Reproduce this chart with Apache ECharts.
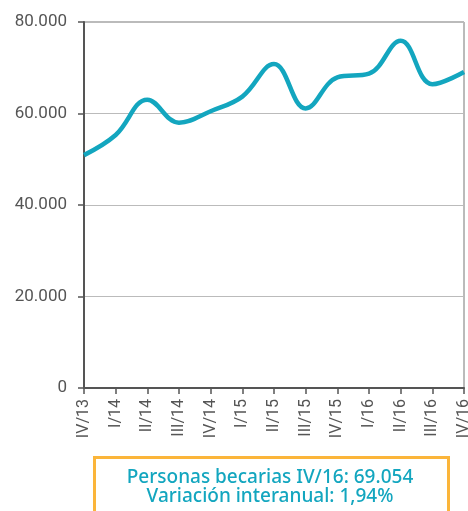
<!DOCTYPE html>
<html>
<head>
<meta charset="utf-8">
<script src="https://cdn.jsdelivr.net/npm/echarts@6/dist/echarts.min.js"></script>
<style>
  html, body { margin: 0; padding: 0; background: #fff; }
  #chart { width: 468px; height: 511px; }
</style>
</head>
<body>
<div id="chart"></div>
<script>
// trimestres
var categories = ['IV/13', 'I/14', 'II/14', 'III/14', 'IV/14', 'I/15', 'II/15', 'III/15', 'IV/15', 'I/16', 'II/16', 'III/16', 'IV/16']
// personas becarias
var becarios = [50900, 55300, 63000, 58000, 60500, 63700, 70800, 61100, 67900, 68700, 75900, 66400, 69054]
var infoLines = ['Personas becarias IV/16: 69.054', 'Variación interanual: 1,94%']

function fmtMiles(v) {
  return String(v).replace(/\B(?=(\d{3})+(?!\d))/g, '.')
}

var chart = echarts.init(document.getElementById('chart'))
var option = {
  animation: false,
  grid: {
    left: 84,
    right: 4,
    top: 22,
    bottom: 123,
    outerBoundsMode: 'none',
    show: true,
    borderColor: '#777', // marco superior y derecho
    borderWidth: 1
  },
  xAxis: {
    type: 'category',
    boundaryGap: false,
    data: categories,
    axisLine: { lineStyle: { color: '#555', width: 2 } },
    axisTick: { show: true, length: 6, lineStyle: { color: '#555', width: 1.5 } },
    axisLabel: {
      rotate: 90,
      margin: 11,
      interval: 0,
      color: '#555',
      fontFamily: 'Roboto',
      fontSize: 16
    },
    splitLine: { show: false }
  },
  yAxis: {
    type: 'value',
    min: 0,
    max: 80000,
    interval: 20000,
    axisLine: { show: true, lineStyle: { color: '#555', width: 2 } },
    axisTick: { show: true, length: 6, lineStyle: { color: '#555', width: 1.5 } },
    axisLabel: {
      margin: 17,
      color: '#555',
      fontFamily: 'Roboto',
      fontSize: 17,
      formatter: fmtMiles
    },
    splitLine: { show: true, lineStyle: { color: '#bbb', width: 1 } }
  },
  series: [
    {
      type: 'line',
      data: becarios,
      smooth: 0.4,
      symbol: 'none',
      lineStyle: { color: '#13a6bf', width: 4.5 }
    }
  ],
  graphic: [
    {
      type: 'rect',
      left: 93,
      top: 456,
      shape: { width: 354, height: 70 },
      style: { fill: '#fff', stroke: '#fbb53a', lineWidth: 3 }
    },
    {
      type: 'text',
      x: 270,
      y: 478,
      style: {
        text: infoLines[0],
        textAlign: 'center',
        textVerticalAlign: 'middle',
        fill: '#13a6bf',
        font: '500 19px "Noto Sans"'
      }
    },
    {
      type: 'text',
      x: 270,
      y: 497,
      style: {
        text: infoLines[1],
        textAlign: 'center',
        textVerticalAlign: 'middle',
        fill: '#13a6bf',
        font: '500 19px "Noto Sans"'
      }
    }
  ]
}
chart.setOption(option)
window.addEventListener('resize', function() {
  chart.resize()
})
</script>
</body>
</html>
